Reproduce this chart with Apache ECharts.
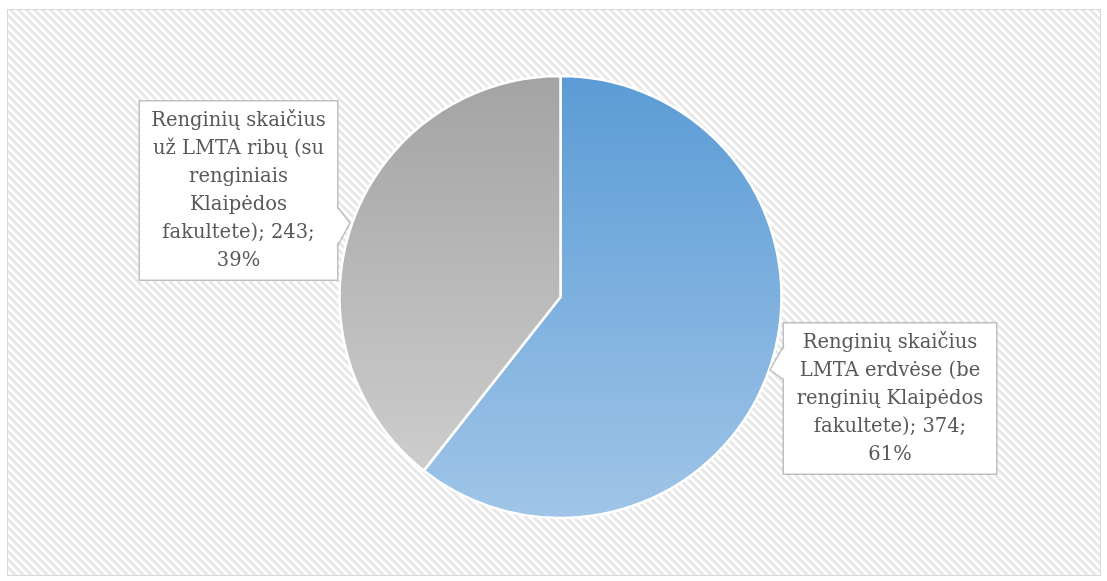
<!DOCTYPE html>
<html>
<head>
<meta charset="utf-8">
<script src="https://cdn.jsdelivr.net/npm/echarts@6/dist/echarts.min.js"></script>
<style>
html,body{margin:0;padding:0;background:#fff;}
#frame{position:absolute;left:7px;top:9px;width:1092px;height:565px;border:1px solid #d9d9d9;
background-image:linear-gradient(45deg,#e8e8e8 25%,#ffffff 25%,#ffffff 50%,#e8e8e8 50%,#e8e8e8 75%,#ffffff 75%,#ffffff);
background-size:8px 8px;}
#chart{position:absolute;left:0;top:0;width:1107px;height:581px;}
</style>
</head>
<body>
<div id="frame"></div>
<div id="chart"></div>
<script>
const categories = [
  'Renginių skaičius LMTA erdvėse (be renginių Klaipėdos fakultete)',
  'Renginių skaičius už LMTA ribų (su renginiais Klaipėdos fakultete)'
];
const values = [374, 243];
// words per label line (layout only)
const wrapPlan = [[2,3,2,2,1],[2,4,1,1,2,1]];

const chart = echarts.init(document.getElementById('chart'), null, {renderer:'canvas'});
const gradBlue = new echarts.graphic.LinearGradient(0,0,0,1,[{offset:0,color:'#5b9bd5'},{offset:1,color:'#a0c5e8'}]);
const gradGray = new echarts.graphic.LinearGradient(0,0,0,1,[{offset:0,color:'#a3a3a3'},{offset:1,color:'#cdcdcd'}]);
const labelBoxes = [
  {cx: 890, cy: 398.5, w: 200},
  {cx: 238.5, cy: 190.5, w: 185}
];
const labelFont = {fontFamily:'DejaVu Serif', fontSize:19.5, color:'#595959', lineHeight:28};

function wrapText(text, plan){
  const words = text.split(' ');
  const lines = [];
  let k = 0;
  plan.forEach(n => { lines.push(words.slice(k, k+n).join(' ')); k += n; });
  if (k < words.length) lines.push(words.slice(k).join(' '));
  return lines.join('\n');
}

chart.setOption({
  animation:false,
  series:[{
    type:'pie',
    center:[560.5,297],
    radius:[0,221],
    startAngle:90,
    clockwise:true,
    data: values.map((v,i)=>({value:v, name:categories[i],
      itemStyle:{color: i===0?gradBlue:gradGray},
      label:{width: labelBoxes[i].w}})),
    itemStyle:{borderColor:'#ffffff', borderWidth:2.5},
    label:{
      show:true,
      position:'outside',
      formatter: p => wrapText(p.name + '; ' + p.value + '; ' + Math.round(p.percent) + '%', wrapPlan[p.dataIndex]),
      overflow:'none',
      align:'center',
      backgroundColor:'#ffffff',
      borderColor:'#bfbfbf',
      borderWidth:1.5,
      padding:[7,6,3,6],
      ...labelFont
    },
    labelLine:{show:false},
    labelLayout: function(params){
      const b = labelBoxes[params.dataIndex];
      return {x:b.cx, y:b.cy, align:'center', verticalAlign:'middle'};
    },
    emphasis:{disabled:true}
  }],
  graphic:[
    {type:'polygon', z:100, shape:{points:[[335,206],[350,223],[335,247]]}, style:{fill:'#ffffff'}},
    {type:'polyline', z:101, shape:{points:[[337,206],[350,223],[337,247]]}, style:{stroke:'#bfbfbf', lineWidth:1.5, fill:null}},
    {type:'polygon', z:100, shape:{points:[[786,345],[770,370],[786,380]]}, style:{fill:'#ffffff'}},
    {type:'polyline', z:101, shape:{points:[[784,345],[770,370],[784,380]]}, style:{stroke:'#bfbfbf', lineWidth:1.5, fill:null}}
  ]
});
</script>
</body>
</html>
